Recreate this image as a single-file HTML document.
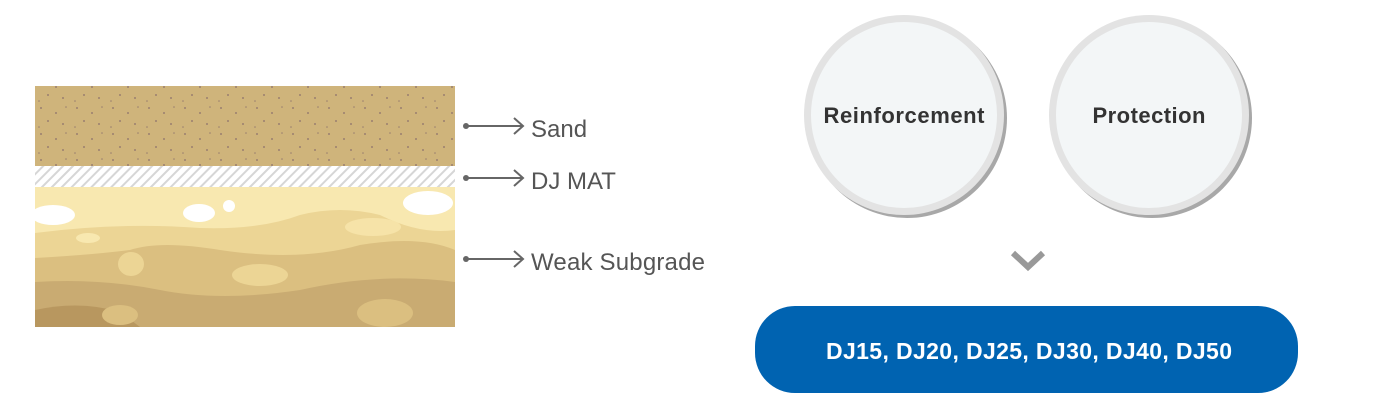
<!DOCTYPE html>
<html><head><style>
body{margin:0;width:1381px;height:413px;background:#fff;overflow:hidden;font-family:"Liberation Sans","DejaVu Sans",sans-serif}
</style></head><body>
<svg width="1381" height="413" xmlns="http://www.w3.org/2000/svg">
<defs>
<pattern id="h" width="7" height="7" patternUnits="userSpaceOnUse" patternTransform="rotate(45)">
<rect width="7" height="7" fill="#fff"/><rect width="2" height="7" fill="#d6d6d6"/></pattern>
<pattern id="s" width="36" height="26" patternUnits="userSpaceOnUse">
<rect width="36" height="26" fill="#cfb47b"/>
<circle cx="5" cy="4" r="1" fill="#9a7f6f"/><circle cx="20" cy="9" r="1" fill="#9a7f6f"/>
<circle cx="30" cy="3" r="0.8" fill="#9a7f6f"/><circle cx="12" cy="17" r="1" fill="#9a7f6f"/>
<circle cx="27" cy="20" r="1" fill="#9a7f6f"/><circle cx="3" cy="23" r="0.8" fill="#9a7f6f"/></pattern>
<clipPath id="sub"><rect x="35" y="187" width="420" height="140"/></clipPath>
</defs>
<rect x="35" y="86" width="420" height="80" fill="url(#s)"/>
<rect x="35" y="166" width="420" height="21" fill="url(#h)"/>
<g clip-path="url(#sub)">
<rect x="35" y="187" width="420" height="140" fill="#f8e8b0"/>
<path d="M35 233 Q120 222 200 228 Q260 230 300 215 Q340 205 380 215 Q420 235 455 230 V327 H35Z" fill="#ecd595"/>
<path d="M35 258 Q90 255 130 250 Q160 240 220 250 Q300 262 360 245 Q420 235 455 250 V327 H35Z" fill="#dbbf80"/>
<path d="M35 282 Q100 278 160 290 Q220 302 300 290 Q380 272 455 282 V327 H35Z" fill="#c9ab72"/>
<path d="M35 310 Q80 300 120 312 L140 327 H35Z" fill="#b8975f"/>
<ellipse cx="53" cy="215" rx="22" ry="10" fill="#fff"/>
<ellipse cx="199" cy="213" rx="16" ry="9" fill="#fff"/>
<circle cx="229" cy="206" r="6" fill="#fff"/>
<ellipse cx="428" cy="203" rx="25" ry="12" fill="#fff"/>
<ellipse cx="131" cy="264" rx="13" ry="12" fill="#ecd595"/>
<ellipse cx="260" cy="275" rx="28" ry="11" fill="#ecd595"/>
<ellipse cx="373" cy="227" rx="28" ry="9" fill="#f6e3a8"/>
<ellipse cx="88" cy="238" rx="12" ry="5" fill="#f8e8b0"/>
<ellipse cx="120" cy="315" rx="18" ry="10" fill="#dbbf80"/>
<ellipse cx="385" cy="313" rx="28" ry="14" fill="#dbbf80"/>
</g>
<g stroke="#666" stroke-width="2" fill="none">
<circle cx="466" cy="126" r="3" fill="#666" stroke="none"/><path d="M466 126H523M514 118l9 8-9 8"/>
<circle cx="466" cy="178" r="3" fill="#666" stroke="none"/><path d="M466 178H523M514 170l9 8-9 8"/>
<circle cx="466" cy="259" r="3" fill="#666" stroke="none"/><path d="M466 259H523M514 251l9 8-9 8"/>
</g>
<g font-size="24" fill="#555">
<text x="531" y="137">Sand</text>
<text x="531" y="189">DJ MAT</text>
<text x="531" y="270" textLength="174">Weak Subgrade</text>
</g>
<circle cx="907" cy="118" r="100" fill="#a8a8a8"/>
<circle cx="904" cy="115" r="100" fill="#e3e3e3"/>
<circle cx="904" cy="115" r="93" fill="#f3f6f7"/>
<circle cx="1152" cy="118" r="100" fill="#a8a8a8"/>
<circle cx="1149" cy="115" r="100" fill="#e3e3e3"/>
<circle cx="1149" cy="115" r="93" fill="#f3f6f7"/>
<g font-size="22" font-weight="bold" fill="#333" text-anchor="middle">
<text x="904" y="123" textLength="161">Reinforcement</text>
<text x="1149" y="123" textLength="113">Protection</text>
</g>
<path d="M1013 253L1028 267L1043 253" stroke="#999" stroke-width="6" fill="none"/>
<rect x="755" y="306" width="543" height="87" rx="40" fill="#0063b1"/>
<text x="1029" y="359" font-size="23" font-weight="bold" fill="#fff" text-anchor="middle" textLength="406">DJ15, DJ20, DJ25, DJ30, DJ40, DJ50</text>
</svg>
</body></html>
